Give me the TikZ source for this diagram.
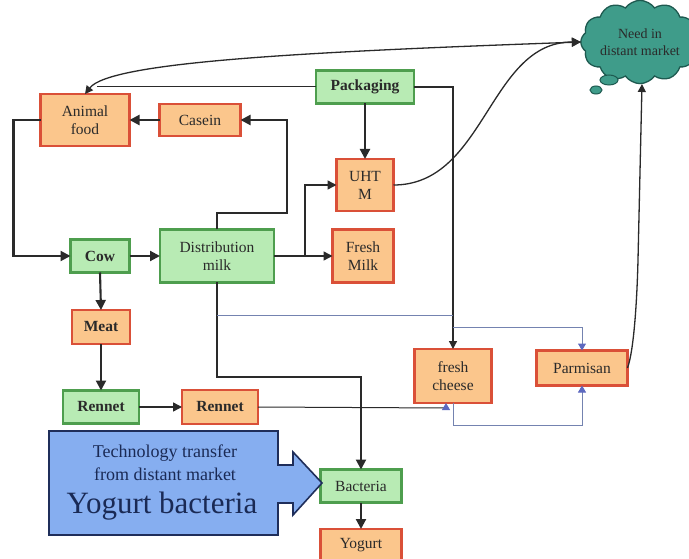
\documentclass[tikz,border=0pt]{standalone}
\usepackage{fontspec}
\setmainfont{Liberation Serif}
\usetikzlibrary{arrows.meta,shapes.symbols,calc}
\definecolor{gfill}{HTML}{B8EBB4}
\definecolor{gdraw}{HTML}{4E9E4E}
\definecolor{ofill}{HTML}{FBC68C}
\definecolor{odraw}{HTML}{DA5038}
\definecolor{ink}{HTML}{2A2A2A}
\definecolor{bline}{HTML}{7483B0}
\definecolor{bfill}{HTML}{86AEF0}
\definecolor{bdraw}{HTML}{1F2E5A}
\definecolor{navy}{HTML}{1A2A55}
\definecolor{cfill}{HTML}{3F9C8A}
\definecolor{cdraw}{HTML}{1E5A50}
\begin{document}
\begin{tikzpicture}[x=1pt,y=-1pt,
  every node/.style={inner sep=0pt,outer sep=0pt,text=ink},
  txt/.style={font=\fontsize{15.5}{18}\selectfont,align=center},
  gbox/.style={txt,draw=gdraw,fill=gfill,line width=2.2pt},
  obox/.style={txt,draw=odraw,fill=ofill,line width=2.3pt},
  thk/.style={draw=ink,line width=2.1pt,-{Triangle[length=10pt,width=10pt]}},
  mid/.style={draw=ink,line width=1.4pt,-{Triangle[length=9pt,width=9pt]}},
  thn/.style={draw=ink,line width=1pt},
  blu/.style={draw=bline,line width=1pt},
  btip/.style={-{Triangle[length=7pt,width=8pt,color=bline!80!blue]}}
]
\useasboundingbox (0,0) rectangle (689,559);
\fill[white] (0,0) rectangle (689,559);

% nodes
\node[obox,minimum width=89,minimum height=52] (af) at (85,120) {Animal\\food};
\node[obox,minimum width=81,minimum height=32] (cas) at (200,120) {Casein};
\node[gbox,minimum width=98,minimum height=33] (pack) at (365,87) {\bfseries Packaging};
\node[obox,minimum width=57,minimum height=52] (uht) at (365,185) {UHT\\M};
\node[obox,minimum width=61,minimum height=53] (fm) at (363,256) {Fresh\\Milk};
\node[gbox,minimum width=59,minimum height=33] (cow) at (100,256) {\bfseries Cow};
\node[gbox,minimum width=114,minimum height=53] (dm) at (217,256) {Distribution\\milk};
\node[obox,minimum width=58,minimum height=34] (meat) at (101,327) {\bfseries Meat};
\node[gbox,minimum width=76,minimum height=33] (ren1) at (101,407) {\bfseries Rennet};
\node[obox,minimum width=76,minimum height=34] (ren2) at (220,407) {\bfseries Rennet};
\node[gbox,minimum width=81,minimum height=33] (bac) at (361,486) {Bacteria};
\node[obox,minimum width=81,minimum height=32] (yog) at (361,545) {Yogurt};
\node[obox,minimum width=77,minimum height=54] (fc) at (453,376) {fresh\\cheese};
\node[obox,minimum width=91,minimum height=35] (parm) at (582,368) {Parmisan};

% cloud
\node[cloud,cloud puffs=12,cloud puff arc=110,aspect=1.6,draw=cdraw,fill=cfill,line width=1.3pt,
      minimum width=108,minimum height=72,txt,font=\fontsize{14}{17}\selectfont] (cloud) at (640,42) {Need in\\distant market};
\draw[draw=cdraw,fill=cfill,line width=1pt] (609,80) ellipse (9 and 5);
\draw[draw=cdraw,fill=cfill,line width=1pt] (596,90) ellipse (6 and 4);

% technology transfer block arrow
\draw[fill=bfill,draw=bdraw,line width=1.6pt,line join=miter]
  (49,431) -- (278,431) -- (278,465) -- (293,465) -- (293,452) -- (322,483)
  -- (293,515) -- (293,503) -- (278,503) -- (278,535) -- (49,535) -- cycle;
\node[text=navy,font=\fontsize{18}{20}\selectfont] (t1) at (165,453) {Technology transfer};
\node[text=navy,font=\fontsize{18}{20}\selectfont] (t2) at (165,474) {from distant market};
\node[text=navy,font=\fontsize{31}{34}\selectfont] (t3) at (162,506) {Yogurt bacteria};

% coordinates
\coordinate (pl) at (97,87);
\coordinate (j1) at (305,256);
\coordinate (d1) at (217,213);
\coordinate (d2) at (287,213);
\coordinate (d3) at (287,120);
\coordinate (b1) at (217,377);
\coordinate (b2) at (361,377);
\coordinate (p1) at (453,87);
\coordinate (q1) at (217,315);
\coordinate (q2) at (453,315);
\coordinate (q3) at (453,327);
\coordinate (q4) at (582,327);
\coordinate (r1) at (446,408);
\coordinate (c1) at (453,425);
\coordinate (c2) at (582,425);
\coordinate (cb) at (642,84);

% connectors
\draw[thk] (cas.west) -- (af.east);
\draw[thk] (dm.north) -- (d1) -- (d2) -- (d3) -- (cas.east);
\draw[thk] (af.west) -- ++(-27,0) |- (cow.west);
\draw[thk] (cow.east) -- (dm.west);
\draw[mid] (dm.east) -- (fm.west);
\draw[mid] (j1) |- (uht.west);
\draw[thk] (pack.south) -- (uht.north);
\draw[thn,line width=1.3pt,-{Triangle[length=8pt,width=8pt]}] (pack.east) -- (p1) -- (fc.north);
\draw[thn] (pack.west) -- (pl);
\draw[thn,line width=1.3pt,{Triangle[length=8pt,width=8pt]}-{Triangle[length=9pt,width=9pt]}]
  (af.north) .. controls (110,62) and (300,52) .. (cloud.west);
\draw[thn,line width=1.3pt,-{Triangle[length=9pt,width=9pt]}] (uht.east) to[out=0,in=180] (cloud.west);
\draw[thk] (cow.south) -- (meat.north);
\draw[thk] (meat.south) -- (ren1.north);
\draw[mid] (ren1.east) -- (ren2.west);
\draw[thn,btip] (ren2.east) -- (r1) -- (r1 |- fc.south);
\draw[blu,btip] (fc.south) -- (c1) -- (c2) -- (parm.south);
\draw[thk] (dm.south) -- (b1) -- (b2) -- (bac.north);
\draw[blu] (q1) -- (q2);
\draw[blu,btip] (q3) -- (q4) -- (parm.north);
\draw[thk] (bac.south) -- (yog.north);
\draw[thn,line width=1.3pt,-{Triangle[length=8pt,width=8pt]}] (parm.east) .. controls (634,350) and (637,300) .. (638,260) -- (cb);
\end{tikzpicture}
\end{document}
